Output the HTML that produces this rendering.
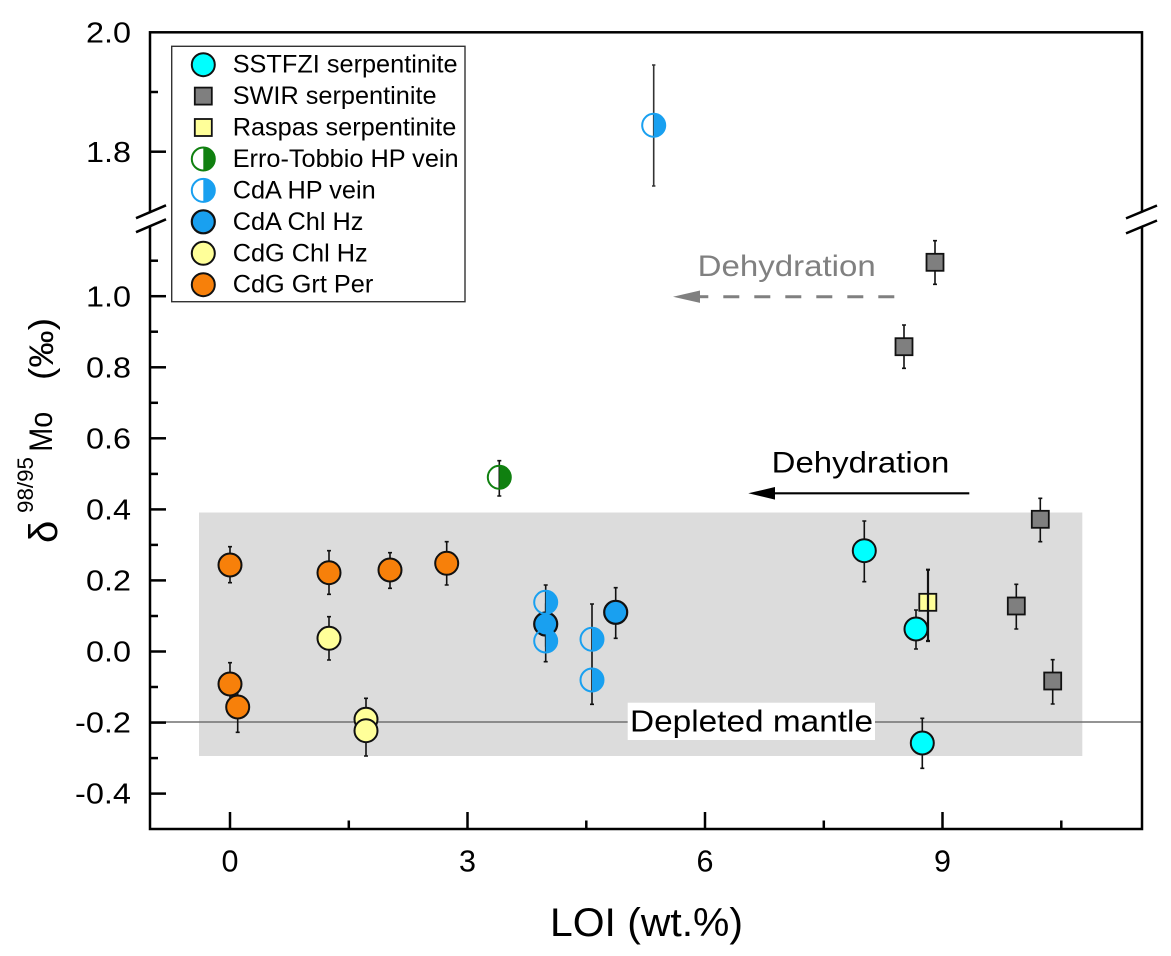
<!DOCTYPE html>
<html><head><meta charset="utf-8"><style>
html,body{margin:0;padding:0;background:#fff;}
svg{display:block;font-family:"Liberation Sans",Arial,sans-serif;}
</style></head><body>
<svg width="1171" height="956" viewBox="0 0 1171 956" xmlns="http://www.w3.org/2000/svg">
<rect width="1171" height="956" fill="#fff"/>
<!-- shaded region -->
<rect x="199" y="512.5" width="883.3" height="243.5" fill="#dcdcdc"/>
<!-- depleted mantle line -->
<line x1="150" y1="722" x2="1142" y2="722" stroke="#707070" stroke-width="1.6"/>
<rect x="627.7" y="702.7" width="247.3" height="37.3" fill="#fff"/>
<text x="630" y="731.7" font-size="31" textLength="243" lengthAdjust="spacingAndGlyphs" fill="#000">Depleted mantle</text>

<!-- gray dehydration -->
<text x="697.7" y="276" font-size="29.5" textLength="178" lengthAdjust="spacingAndGlyphs" fill="#808080">Dehydration</text>
<polygon points="673,296.7 700,290.5 700,302.9" fill="#808080"/>
<g stroke="#808080" stroke-width="3">
<line x1="698" y1="296.7" x2="708.3" y2="296.7"/>
<line x1="723.3" y1="296.7" x2="739.3" y2="296.7"/>
<line x1="754.3" y1="296.7" x2="770.3" y2="296.7"/>
<line x1="785.3" y1="296.7" x2="801.3" y2="296.7"/>
<line x1="816.3" y1="296.7" x2="832.3" y2="296.7"/>
<line x1="847.3" y1="296.7" x2="863.3" y2="296.7"/>
<line x1="878.3" y1="296.7" x2="894.3" y2="296.7"/>
</g>
<!-- black dehydration -->
<text x="771.7" y="472.3" font-size="29.5" textLength="177.6" lengthAdjust="spacingAndGlyphs" fill="#000">Dehydration</text>
<polygon points="748.3,493.3 775,487 775,499.6" fill="#000"/>
<line x1="770" y1="493.3" x2="969.3" y2="493.3" stroke="#000" stroke-width="2.2"/>

<!-- error bars -->
<g stroke="#111" stroke-width="1.6" fill="none">
<path d="M230 546.7V582.7M228 546.7H232M228 582.7H232"/>
<path d="M329 550.7V594.3M327 550.7H331M327 594.3H331"/>
<path d="M390 552.7V588.3M388 552.7H392M388 588.3H392"/>
<path d="M446.7 541.7V585M444.7 541.7H448.7M444.7 585H448.7"/>
<path d="M230 662.7V706M228 662.7H232"/>
<path d="M237.7 682.3V732.3M235.7 732.3H239.7"/>
<path d="M329 616.7V660M327 616.7H331M327 660H331"/>
<path d="M366 698.3V756M364 698.3H368M364 756H368"/>
<path d="M499.3 460.7V496M497.3 460.7H501.3M497.3 496H501.3"/>
<path d="M653.7 65V186M652 65H655.4M652 186H655.4" stroke="#333"/>
<path d="M545.7 585V661.7M543.7 585H547.7M543.7 661.7H547.7"/>
<path d="M592 604V704.3M590 604H594M590 704.3H594"/>
<path d="M545.7 603.3V646.7"/>
<path d="M615.7 587.7V638.3M613.7 587.7H617.7M613.7 638.3H617.7"/>
<path d="M864.3 521V581.7M862.3 521H866.3M862.3 581.7H866.3"/>
<path d="M916 610V649M914 610H918M914 649H918"/>
<path d="M922.3 718.3V768.3M920.3 718.3H924.3M920.3 768.3H924.3"/>
<path d="M935 240.7V284.3M933 240.7H937M933 284.3H937"/>
<path d="M904 325V368.3M902 325H906M902 368.3H906"/>
<path d="M1040.3 498.3V541.7M1038.3 498.3H1042.3M1038.3 541.7H1042.3"/>
<path d="M1016.3 584.3V629M1014.3 584.3H1018.3M1014.3 629H1018.3"/>
<path d="M1052.7 659.7V704M1050.7 659.7H1054.7M1050.7 704H1054.7"/>
</g>

<!-- CdG Grt Per (orange) -->
<g fill="#f7800a" stroke="#111" stroke-width="2">
<circle cx="230" cy="565" r="11.5"/>
<circle cx="329" cy="572.7" r="11.5"/>
<circle cx="390" cy="570" r="11.5"/>
<circle cx="446.7" cy="563.3" r="11.5"/>
<circle cx="230" cy="684" r="11.5"/>
<circle cx="237.7" cy="707" r="11.5"/>
</g>
<!-- CdG Chl Hz (yellow) -->
<g fill="#ffff99" stroke="#111" stroke-width="2">
<circle cx="329" cy="638.3" r="11.5"/>
<circle cx="366" cy="719.3" r="11.5"/>
<circle cx="366" cy="730.7" r="11.5"/>
</g>
<!-- CdA Chl Hz (blue full) -->
<g fill="#19a0f0" stroke="#111" stroke-width="2.2">
<circle cx="545.7" cy="624" r="11.5"/>
<circle cx="615.7" cy="612.3" r="11.5"/>
</g>
<!-- CdA HP vein (half) -->
<g>
<path d="M653.7 113.8A11.5 11.5 0 0 1 653.7 136.8Z" fill="#19a0f0"/>
<circle cx="653.7" cy="125.3" r="11.5" fill="none" stroke="#19a0f0" stroke-width="2"/>
<path d="M545.7 590.8A11.5 11.5 0 0 1 545.7 613.8Z" fill="#19a0f0"/>
<circle cx="545.7" cy="602.3" r="11.5" fill="none" stroke="#19a0f0" stroke-width="2"/>
<path d="M545.7 629.5A11.5 11.5 0 0 1 545.7 652.5Z" fill="#19a0f0"/>
<circle cx="545.7" cy="641" r="11.5" fill="none" stroke="#19a0f0" stroke-width="2"/>
<path d="M592 627.8A11.5 11.5 0 0 1 592 650.8Z" fill="#19a0f0"/>
<circle cx="592" cy="639.3" r="11.5" fill="none" stroke="#19a0f0" stroke-width="2"/>
<path d="M592 668.5A11.5 11.5 0 0 1 592 691.5Z" fill="#19a0f0"/>
<circle cx="592" cy="680" r="11.5" fill="none" stroke="#19a0f0" stroke-width="2"/>
</g>
<!-- Erro-Tobbio -->
<path d="M499.3 465.8A11.5 11.5 0 0 1 499.3 488.8Z" fill="#108010"/>
<circle cx="499.3" cy="477.3" r="11.5" fill="none" stroke="#108010" stroke-width="2"/>
<!-- SSTFZI cyan -->
<g fill="#00ffff" stroke="#111" stroke-width="2">
<circle cx="864.3" cy="550.7" r="11.5"/>
<circle cx="916" cy="629" r="11.5"/>
<circle cx="922.3" cy="743" r="11.5"/>
</g>
<!-- SWIR squares -->
<g fill="#7f7f7f" stroke="#111" stroke-width="1.8">
<rect x="926.5" y="253.8" width="17" height="17"/>
<rect x="895.5" y="338.2" width="17" height="17"/>
<rect x="1031.8" y="510.8" width="17" height="17"/>
<rect x="1007.8" y="597.5" width="17" height="17"/>
<rect x="1044.2" y="672.5" width="17" height="17"/>
</g>
<!-- Raspas -->
<rect x="919.3" y="593.8" width="17" height="17" fill="#ffff99" stroke="#111" stroke-width="1.8"/>
<path d="M928 569.7V641M926 569.7H930M926 641H930" stroke="#111" stroke-width="2.2"/>

<!-- axes frame -->
<rect x="150" y="32.3" width="992" height="796.7" fill="none" stroke="#000" stroke-width="2.5"/>
<!-- y ticks -->
<g stroke="#000" stroke-width="2.5">
<line x1="150" y1="92" x2="158" y2="92"/>
<line x1="150" y1="151.7" x2="166" y2="151.7"/>
<line x1="150" y1="260.7" x2="158" y2="260.7"/>
<line x1="150" y1="296.2" x2="166" y2="296.2"/>
<line x1="150" y1="331.7" x2="158" y2="331.7"/>
<line x1="150" y1="367.3" x2="166" y2="367.3"/>
<line x1="150" y1="402.8" x2="158" y2="402.8"/>
<line x1="150" y1="438.3" x2="166" y2="438.3"/>
<line x1="150" y1="473.9" x2="158" y2="473.9"/>
<line x1="150" y1="509.4" x2="166" y2="509.4"/>
<line x1="150" y1="544.9" x2="158" y2="544.9"/>
<line x1="150" y1="580.4" x2="166" y2="580.4"/>
<line x1="150" y1="616" x2="158" y2="616"/>
<line x1="150" y1="651.5" x2="166" y2="651.5"/>
<line x1="150" y1="687" x2="158" y2="687"/>
<line x1="150" y1="722.6" x2="166" y2="722.6"/>
<line x1="150" y1="758.1" x2="158" y2="758.1"/>
<line x1="150" y1="793.6" x2="166" y2="793.6"/>
<!-- x ticks -->
<line x1="230" y1="829" x2="230" y2="812"/>
<line x1="348.8" y1="829" x2="348.8" y2="820.5"/>
<line x1="467.5" y1="829" x2="467.5" y2="812"/>
<line x1="586.3" y1="829" x2="586.3" y2="820.5"/>
<line x1="705" y1="829" x2="705" y2="812"/>
<line x1="823.8" y1="829" x2="823.8" y2="820.5"/>
<line x1="942.5" y1="829" x2="942.5" y2="812"/>
<line x1="1061.3" y1="829" x2="1061.3" y2="820.5"/>
</g>
<!-- axis breaks -->
<polygon points="144,214.8 156,209.6 156,223.4 144,228.6" fill="#fff"/>
<polygon points="1136,214.2 1148,209 1148,224 1136,229.2" fill="#fff"/>
<g stroke="#000" stroke-width="2.5">
<line x1="136" y1="218.2" x2="166" y2="205.3"/>
<line x1="136" y1="232.2" x2="166" y2="219.3"/>
<line x1="1126" y1="218.4" x2="1157" y2="205.5"/>
<line x1="1126" y1="233.4" x2="1157" y2="220.5"/>
</g>

<!-- y tick labels -->
<g font-size="28.5" text-anchor="end" fill="#000">
<text x="131" y="42.3" textLength="45" lengthAdjust="spacingAndGlyphs">2.0</text>
<text x="131" y="161.8" textLength="45" lengthAdjust="spacingAndGlyphs">1.8</text>
<text x="131" y="306.3" textLength="45" lengthAdjust="spacingAndGlyphs">1.0</text>
<text x="131" y="377.4" textLength="45" lengthAdjust="spacingAndGlyphs">0.8</text>
<text x="131" y="448.4" textLength="45" lengthAdjust="spacingAndGlyphs">0.6</text>
<text x="131" y="519.5" textLength="45" lengthAdjust="spacingAndGlyphs">0.4</text>
<text x="131" y="590.5" textLength="45" lengthAdjust="spacingAndGlyphs">0.2</text>
<text x="131" y="661.6" textLength="45" lengthAdjust="spacingAndGlyphs">0.0</text>
<text x="131" y="732.7" textLength="56" lengthAdjust="spacingAndGlyphs">-0.2</text>
<text x="131" y="803.7" textLength="56" lengthAdjust="spacingAndGlyphs">-0.4</text>
</g>
<!-- x tick labels -->
<g font-size="30.5" text-anchor="middle" fill="#000">
<text x="230" y="871.5">0</text>
<text x="467.5" y="871.5">3</text>
<text x="705" y="871.5">6</text>
<text x="942.5" y="871.5">9</text>
</g>
<!-- x title -->
<text x="550" y="936" font-size="40" textLength="193" lengthAdjust="spacingAndGlyphs" fill="#000">LOI (wt.%)</text>
<!-- y title -->
<text transform="translate(57,543) rotate(-90)" font-size="40" fill="#000">δ</text>
<text transform="translate(33,513) rotate(-90)" font-size="22" textLength="56" lengthAdjust="spacingAndGlyphs" fill="#000">98/95</text>
<text transform="translate(52,451.7) rotate(-90)" font-size="32" textLength="40" lengthAdjust="spacingAndGlyphs" fill="#000">Mo</text>
<text transform="translate(53,380) rotate(-90)" font-size="34" textLength="62" lengthAdjust="spacingAndGlyphs" fill="#000">(‰)</text>

<!-- legend -->
<rect x="171.7" y="46.3" width="293.3" height="255.4" fill="#fff" stroke="#333" stroke-width="1.4"/>
<circle cx="203.3" cy="64.7" r="11.5" fill="#00ffff" stroke="#111" stroke-width="2"/>
<rect x="194.8" y="87.6" width="17" height="17" fill="#7f7f7f" stroke="#111" stroke-width="1.8"/>
<rect x="194.8" y="119" width="17" height="17" fill="#ffff99" stroke="#111" stroke-width="1.8"/>
<path d="M203.3 147.5A11.5 11.5 0 0 1 203.3 170.5Z" fill="#108010"/>
<circle cx="203.3" cy="159" r="11.5" fill="none" stroke="#108010" stroke-width="2"/>
<path d="M203.3 178.9A11.5 11.5 0 0 1 203.3 201.9Z" fill="#19a0f0"/>
<circle cx="203.3" cy="190.4" r="11.5" fill="none" stroke="#19a0f0" stroke-width="2"/>
<circle cx="203.3" cy="221.8" r="11.5" fill="#19a0f0" stroke="#111" stroke-width="2.2"/>
<circle cx="203.3" cy="253.3" r="11.5" fill="#ffff99" stroke="#111" stroke-width="2"/>
<circle cx="203.3" cy="284.7" r="11.5" fill="#f7800a" stroke="#111" stroke-width="2"/>
<g font-size="25.3" fill="#000">
<text x="232.7" y="72.7">SSTFZI serpentinite</text>
<text x="232.7" y="104.1">SWIR serpentinite</text>
<text x="232.7" y="135.6">Raspas serpentinite</text>
<text x="232.7" y="167">Erro-Tobbio HP vein</text>
<text x="232.7" y="198.4">CdA HP vein</text>
<text x="232.7" y="229.9">CdA Chl Hz</text>
<text x="232.7" y="261.3">CdG Chl Hz</text>
<text x="232.7" y="292.7">CdG Grt Per</text>
</g>
</svg>
</body></html>
